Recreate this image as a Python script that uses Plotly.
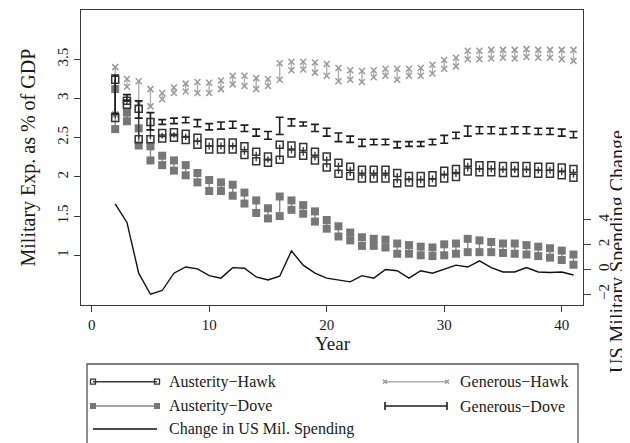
import plotly.graph_objects as go

# ---------------- data ----------------
years = list(range(2, 42))

ah_hi = [3.24, 2.97, 2.87, 2.70, 2.56, 2.57, 2.55, 2.50, 2.44, 2.44, 2.44, 2.39, 2.32, 2.26, 2.41,
         2.40, 2.38, 2.32, 2.26, 2.18, 2.13, 2.09, 2.09, 2.09, 2.05, 2.01, 2.01, 2.02, 2.08, 2.10,
         2.18, 2.15, 2.15, 2.14, 2.14, 2.14, 2.13, 2.13, 2.12, 2.10]
ah_lo = [2.75, 2.92, 2.48, 2.48, 2.49, 2.50, 2.47, 2.41, 2.35, 2.35, 2.35, 2.28, 2.20, 2.18, 2.22,
         2.30, 2.27, 2.21, 2.12, 2.04, 2.01, 1.98, 1.98, 1.98, 1.92, 1.93, 1.92, 1.93, 1.98, 2.00,
         2.07, 2.06, 2.06, 2.05, 2.05, 2.05, 2.04, 2.04, 2.02, 1.99]

ad_hi = [3.12, 2.82, 2.62, 2.39, 2.27, 2.21, 2.15, 2.05, 1.96, 1.93, 1.90, 1.80, 1.70, 1.60, 1.75,
         1.70, 1.64, 1.56, 1.45, 1.37, 1.29, 1.23, 1.21, 1.20, 1.15, 1.13, 1.11, 1.10, 1.14, 1.15,
         1.21, 1.19, 1.17, 1.15, 1.15, 1.13, 1.11, 1.09, 1.06, 1.01]
ad_lo = [2.61, 2.71, 2.40, 2.21, 2.15, 2.08, 2.02, 1.93, 1.82, 1.82, 1.76, 1.66, 1.54, 1.47, 1.50,
         1.58, 1.53, 1.43, 1.34, 1.24, 1.19, 1.12, 1.12, 1.10, 1.02, 1.02, 1.00, 0.99, 1.00, 1.02,
         1.04, 1.04, 1.04, 1.03, 1.02, 1.01, 0.99, 0.97, 0.94, 0.88]

gh_hi = [3.40, 3.25, 3.22, 3.12, 3.07, 3.14, 3.19, 3.21, 3.20, 3.23, 3.29, 3.29, 3.26, 3.25, 3.45,
         3.47, 3.47, 3.46, 3.44, 3.39, 3.36, 3.35, 3.36, 3.38, 3.38, 3.38, 3.39, 3.43, 3.49, 3.52,
         3.61, 3.61, 3.62, 3.62, 3.62, 3.63, 3.62, 3.62, 3.62, 3.62]
gh_lo = [2.80, 3.15, 2.93, 2.90, 2.99, 3.07, 3.09, 3.07, 3.07, 3.12, 3.18, 3.16, 3.12, 3.16, 3.24,
         3.36, 3.37, 3.33, 3.29, 3.22, 3.24, 3.21, 3.27, 3.29, 3.24, 3.29, 3.29, 3.32, 3.38, 3.41,
         3.50, 3.50, 3.51, 3.52, 3.51, 3.53, 3.52, 3.52, 3.50, 3.48]

gd_hi = [3.30, 3.05, 2.97, 2.82, 2.73, 2.75, 2.76, 2.73, 2.68, 2.70, 2.71, 2.66, 2.61, 2.58, 2.76,
         2.74, 2.70, 2.67, 2.62, 2.56, 2.52, 2.48, 2.48, 2.48, 2.45, 2.45, 2.45, 2.48, 2.53, 2.57,
         2.65, 2.64, 2.64, 2.62, 2.64, 2.64, 2.62, 2.62, 2.61, 2.58]
gd_lo = [2.81, 2.98, 2.75, 2.60, 2.67, 2.68, 2.69, 2.64, 2.60, 2.61, 2.62, 2.58, 2.52, 2.48, 2.54,
         2.65, 2.65, 2.58, 2.52, 2.45, 2.44, 2.39, 2.41, 2.41, 2.37, 2.39, 2.39, 2.41, 2.43, 2.49,
         2.52, 2.55, 2.55, 2.54, 2.55, 2.55, 2.54, 2.54, 2.52, 2.50]

us_change = [5.3, 3.8, -0.3, -2.0, -1.7, -0.3, 0.2, 0.05, -0.5, -0.7, 0.15, 0.1, -0.6, -0.85, -0.55,
             1.5, 0.35, -0.3, -0.7, -0.85, -1.0, -0.5, -0.7, 0.0, -0.1, -0.7, -0.1, -0.3, 0.0, 0.35,
             0.2, 0.7, 0.15, -0.2, -0.2, 0.15, -0.2, -0.25, -0.2, -0.45]

x_ticks = [0, 10, 20, 30, 40]
y_ticks = [1, 1.5, 2, 2.5, 3, 3.5]
y_ticklabels = ["1", "1.5", "2", "2.5", "3", "3.5"]
y2_ticks = [-2, 0, 2, 4]
y2_ticklabels = ["\u22122", "0", "2", "4"]

series_names = ["Austerity\u2212Hawk", "Austerity\u2212Dove", "Generous\u2212Hawk", "Generous\u2212Dove",
                "Change in US Mil. Spending"]

# ---------------- layout helpers ----------------
W, H = 630, 443
OFF = 8  # page body margin: screen pixel = figure pixel + 8
FONT = "Liberation Serif"
TXT = "#1a1a1a"
FRAME = "#3a3a3a"


def px(x):
    return (x - OFF) / W


def py(y):
    return 1 - (y - OFF) / H


def range_xy(xs, lo, hi):
    X, Y = [], []
    for x, l, h in zip(xs, lo, hi):
        X += [x, x, None]
        Y += [l, h, None]
    return X, Y


C_AH, C_AH_L = "#333333", "#3c3c3c"
C_AD, C_AD_L = "#777777", "#8a8a8a"
C_GH, C_GH_L = "#9a9a9a", "#b0b0b0"
C_GD = "#1e1e1e"

m_ah = dict(symbol="square-open", size=7, color=C_AH, line=dict(color=C_AH, width=1.5))
m_ad = dict(symbol="square", size=8, color=C_AD, line=dict(width=0))
m_gh = dict(symbol="x-thin", size=6, color=C_GH, line=dict(color=C_GH, width=1.5))

k_ah = dict(symbol="square-open", size=5, color=C_AH, line=dict(color=C_AH, width=1.3))
k_ad = dict(symbol="square", size=6, color=C_AD, line=dict(width=0))
k_gh = dict(symbol="x-thin", size=4, color=C_GH, line=dict(color=C_GH, width=1.3))

fig = go.Figure()

X, Y = range_xy(years, gh_lo, gh_hi)
fig.add_trace(go.Scatter(x=X, y=Y, mode="lines+markers", line=dict(color=C_GH_L, width=1.4),
                         marker=m_gh, name=series_names[2], xaxis="x", yaxis="y"))
X, Y = range_xy(years, ad_lo, ad_hi)
fig.add_trace(go.Scatter(x=X, y=Y, mode="lines+markers", line=dict(color=C_AD_L, width=1.4),
                         marker=m_ad, name=series_names[1], xaxis="x", yaxis="y"))
X, Y = range_xy(years, ah_lo, ah_hi)
fig.add_trace(go.Scatter(x=X, y=Y, mode="lines+markers", line=dict(color=C_AH_L, width=1.4),
                         marker=m_ah, name=series_names[0], xaxis="x", yaxis="y"))
gd_mid = [(a + b) / 2 for a, b in zip(gd_lo, gd_hi)]
gd_half = [(b - a) / 2 for a, b in zip(gd_lo, gd_hi)]
fig.add_trace(go.Scatter(x=years, y=gd_mid, mode="markers",
                         marker=dict(size=1, color="rgba(0,0,0,0)"),
                         error_y=dict(type="data", array=gd_half, symmetric=True, color=C_GD,
                                      thickness=1.6, width=4),
                         name=series_names[3], xaxis="x", yaxis="y"))
fig.add_trace(go.Scatter(x=years, y=us_change, mode="lines", line=dict(color="#111111", width=1.4),
                         name=series_names[4], xaxis="x", yaxis="y2"))

# ---------------- legend (drawn on a hidden screen-pixel axis) ----------------
rows = [381.7, 406.0, 429.0]
L0, L1, LT = 93, 157, 167
R0, R1, RT = 385, 447, 458


def key(x0, x1, y, line, marker=None):
    fig.add_trace(go.Scatter(x=[x0, x1], y=[y, y], mode="lines+markers" if marker else "lines",
                             line=line, marker=marker, xaxis="x3", yaxis="y3",
                             hoverinfo="skip", cliponaxis=False))


key(L0, L1, rows[0], dict(color=C_AH_L, width=1.4), k_ah)
key(L0, L1, rows[1], dict(color=C_AD_L, width=1.4), k_ad)
key(L0, L1, rows[2], dict(color="#111111", width=1.4))
key(R0, R1, rows[0], dict(color=C_GH_L, width=1.4), k_gh)
key(R0, R1, rows[1], dict(color=C_GD, width=1.6))

shapes = [
    dict(type="rect", xref="paper", yref="paper", x0=px(87), x1=px(578), y0=py(364), y1=py(480),
         line=dict(color="#555555", width=1.3), fillcolor="rgba(0,0,0,0)", layer="below"),
    dict(type="line", xref="paper", yref="paper", x0=px(R0), x1=px(R0), y0=py(rows[1] - 4),
         y1=py(rows[1] + 4), line=dict(color=C_GD, width=1.6)),
    dict(type="line", xref="paper", yref="paper", x0=px(R1), x1=px(R1), y0=py(rows[1] - 4),
         y1=py(rows[1] + 4), line=dict(color=C_GD, width=1.6)),
]

ann = []
for (xx, yy, t) in [(LT, rows[0], series_names[0]), (LT, rows[1], series_names[1]),
                    (LT, rows[2], series_names[4]), (RT, rows[0], series_names[2]),
                    (RT, rows[1], series_names[3])]:
    ann.append(dict(x=px(xx), y=py(yy), xref="paper", yref="paper", text=t, showarrow=False,
                    xanchor="left", yanchor="middle", font=dict(size=16, color=TXT, family=FONT)))
ann.append(dict(x=px(333), y=py(343), xref="paper", yref="paper", text="Year", showarrow=False,
                xanchor="center", yanchor="middle", font=dict(size=19, color=TXT, family=FONT)))
ann.append(dict(x=px(28), y=py(157.5), xref="paper", yref="paper", text="Military Exp. as % of GDP",
                showarrow=False, textangle=-90, xanchor="center", yanchor="middle",
                font=dict(size=20, color=TXT, family=FONT)))
ann.append(dict(x=px(617), y=py(252), xref="paper", yref="paper", text="US Military Spending Change",
                showarrow=False, textangle=-90, xanchor="center", yanchor="middle",
                font=dict(size=20, color=TXT, family=FONT)))

axis_common = dict(showgrid=False, zeroline=False, ticks="outside", tickcolor=FRAME,
                   tickfont=dict(size=15, color=TXT, family=FONT), automargin=False)

fig.update_layout(
    width=W, height=H, margin=dict(l=0, r=0, t=0, b=0),
    template="none", showlegend=False,
    paper_bgcolor="white", plot_bgcolor="rgba(0,0,0,0)",
    font=dict(family=FONT, color=TXT),
    xaxis=dict(domain=[px(81), px(583)], range=[-0.91, 41.81], tickvals=x_ticks,
               ticklen=6, showline=True, linecolor=FRAME, linewidth=1.3, mirror=True,
               anchor="y", **axis_common),
    yaxis=dict(domain=[py(305), py(10)], range=[0.366, 4.129], tickvals=y_ticks,
               ticktext=y_ticklabels, tickangle=-90, ticklen=6, showline=True,
               linecolor=FRAME, linewidth=1.3, mirror=True, anchor="x", **axis_common),
    yaxis2=dict(overlaying="y", side="right", range=[-2.87, 20.96], tickvals=y2_ticks,
                ticktext=y2_ticklabels, tickangle=-90, ticklen=7, showline=True,
                linecolor=FRAME, linewidth=1.3, anchor="x", **axis_common),
    xaxis3=dict(domain=[0, 1], range=[OFF, W + OFF], visible=False, anchor="y3", fixedrange=True),
    yaxis3=dict(domain=[0, 1], range=[H + OFF, OFF], visible=False, anchor="x3", fixedrange=True),
    shapes=shapes, annotations=ann,
)

fig.write_html("out.html")
